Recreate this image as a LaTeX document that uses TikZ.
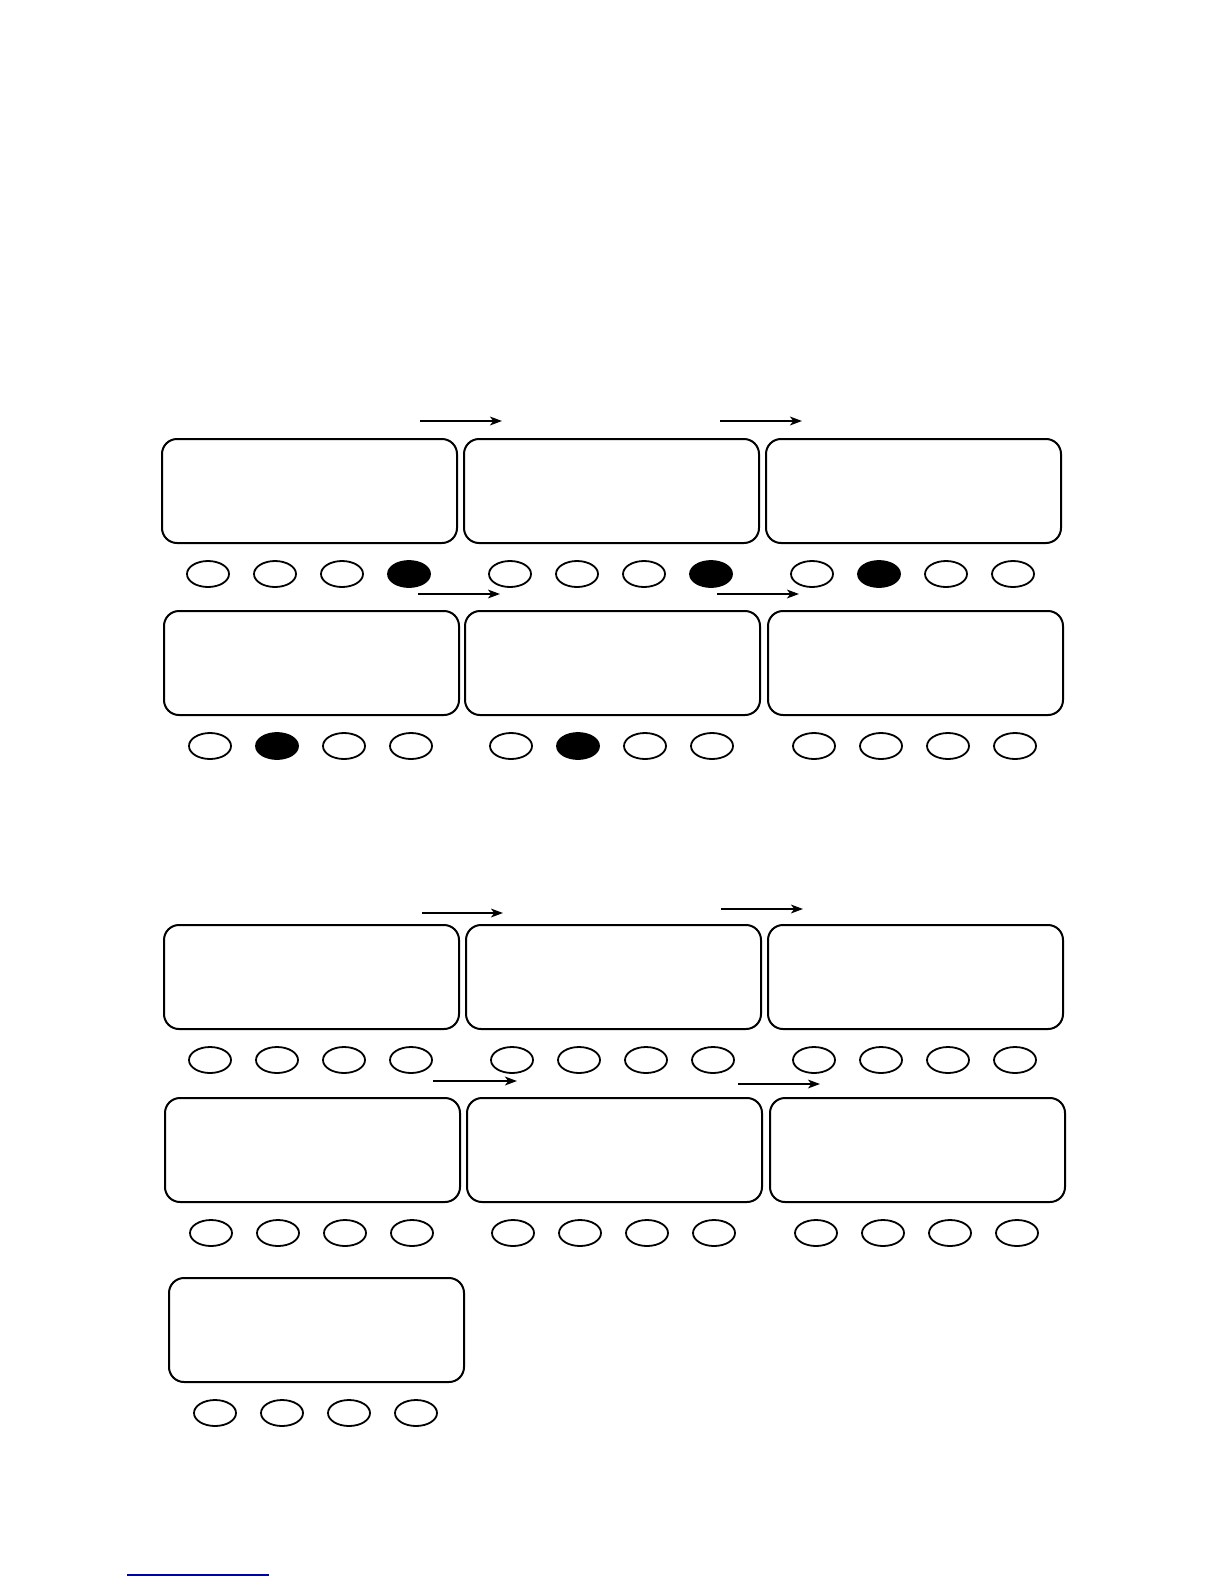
\documentclass[tikz,border=0pt]{standalone}
\usepackage{tikz}
\usetikzlibrary{calc,shapes.geometric,arrows.meta}
\definecolor{rulecol}{RGB}{0,0,170}
\tikzset{
	screen/.style={draw, line width=1pt, rounded corners=7.5pt, minimum width=147.5pt, minimum height=52pt, inner sep=0pt, anchor=north west},
	btn/.style={draw, ellipse, line width=0.9pt, minimum width=21pt, minimum height=13pt, inner sep=0pt},
	btnon/.style={btn, fill=black},
	flow/.style={-{Stealth[length=6pt,width=4.4pt,inset=1.6pt]}, line width=0.75pt},
	flowbold/.style={flow, line width=1pt}
}
\def\screen#1(#2,#3)#4{%
	\node[screen] (#1) at (#2,#3) {};
	\foreach \k in {1,...,4}{
		\ifnum\k=#4\relax \def\bstyle{btnon}\else \def\bstyle{btn}\fi
		\node[\bstyle] (#1b\k) at ($(#1.south west)+({47+67*(\k-1)},30)$) {};
	}
}
\begin{document}
\begin{tikzpicture}[x=0.5pt, y=-0.5pt]
			%%%%% START %%%%%
			\useasboundingbox (0,0) rectangle (1224,1584);
			
			\screen s11(161,438){4}
			\screen s12(463,438){4}
			\screen s13(765,438){2}
			
			\screen s21(163,610){2}
			\screen s22(464,610){2}
			\screen s23(767,610){0}
			
			\screen s31(163,924){0}
			\screen s32(465,924){0}
			\screen s33(767,924){0}
			
			\screen s41(164,1097){0}
			\screen s42(466,1097){0}
			\screen s43(769,1097){0}
			
			\screen s51(168,1277){0}
			
			\coordinate (a11) at (420,421);  \coordinate (a12) at (502,421);
			\coordinate (a13) at (720,421);  \coordinate (a14) at (802,421);
			\draw[flowbold] (a11) -- (a12);
			\draw[flowbold] (a13) -- (a14);
			
			\coordinate (a21) at (418,594);  \coordinate (a22) at (500,594);
			\coordinate (a23) at (717,594);  \coordinate (a24) at (799,594);
			\draw[flow] (a21) -- (a22);
			\draw[flow] (a23) -- (a24);
			
			\coordinate (a31) at (422,913);  \coordinate (a32) at (503,913);
			\coordinate (a33) at (721,909);  \coordinate (a34) at (803,909);
			\draw[flow] (a31) -- (a32);
			\draw[flowbold] (a33) -- (a34);
			
			\coordinate (a41) at (433,1081); \coordinate (a42) at (517,1081);
			\coordinate (a43) at (738,1084); \coordinate (a44) at (820,1084);
			\draw[flowbold] (a41) -- (a42);
			\draw[flow] (a43) -- (a44);
			
			\coordinate (fn1) at (127,1575); \coordinate (fn2) at (269,1575);
			\draw[rulecol, line width=0.6pt] (fn1) -- (fn2);
			%%%%% END %%%%%
		\end{tikzpicture}
\end{document}
